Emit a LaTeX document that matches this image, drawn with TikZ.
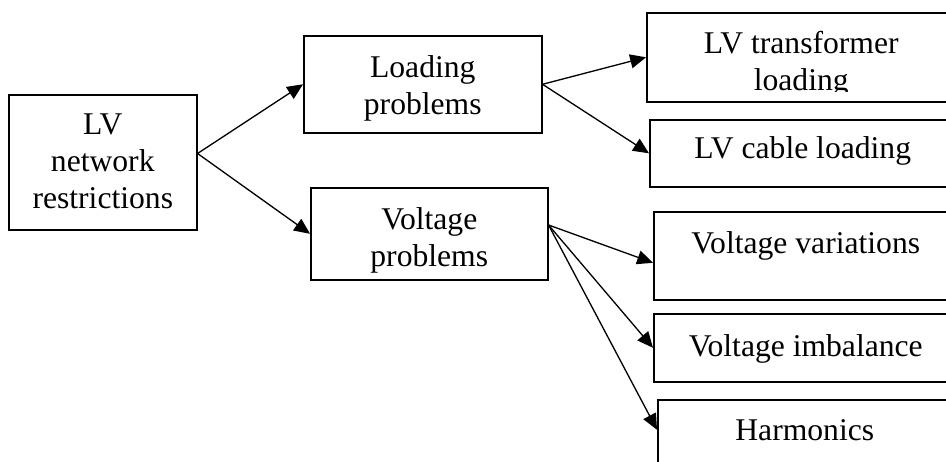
\documentclass[tikz,border=0pt]{standalone}
\usepackage{fontspec}
\setmainfont{Liberation Serif}
\usetikzlibrary{arrows.meta, positioning, calc}

\begin{document}
\begin{tikzpicture}[
  x=0.02cm, y=-0.02cm,
  >={Triangle[length=9pt, width=8pt]},
  arr/.style={draw=black, line width=0.75pt, ->},
  box/.style={rectangle, draw=black, line width=0.9pt, anchor=north west,
    inner xsep=0pt, inner ysep=0pt, align=center,
    font=\fontsize{18}{21}\selectfont},
]

% Frame (boxes on the right run past the edge)
\useasboundingbox (0,0) rectangle (946,461);
\clip (0,0) rectangle (946,461);

% Root
\node[box, minimum width=3.76cm, text height=2.28cm, text depth=0.42cm]
  (lvnet) at (8,94) {LV\\network\\restrictions};

% Middle column
\node[box, minimum width=4.76cm, text height=1.58cm, text depth=0.36cm]
  (load) at (303,35) {Loading\\problems};
\node[box, minimum width=4.74cm, text height=1.58cm, text depth=0.26cm]
  (volt) at (310,187) {Voltage\\problems};

% Right column
\node[box, minimum width=6.18cm, text height=1.56cm, text depth=0.22cm]
  (trans) at (646,12) {LV transformer\\loading};
\node[box, minimum width=6.12cm, text height=0.78cm, text depth=0.56cm]
  (cable) at (649,119) {LV cable loading};
\node[box, minimum width=6.08cm, text height=0.84cm, text depth=0.92cm]
  (var) at (653,211) {Voltage variations};
\node[box, minimum width=6.08cm, text height=0.86cm, text depth=0.50cm]
  (imb) at (653,313) {Voltage imbalance};
\node[box, minimum width=5.88cm, text height=0.82cm, text depth=1.2cm]
  (harm) at (657,399) {Harmonics};

% Text of the top box is cut off at the bottom
\fill[white] ($(trans.south west)+(3,-11)$) rectangle ($(trans.south east)+(-3,-2)$);

% Connectors
\coordinate (lvout) at ([yshift=5pt]lvnet.east);
\draw[arr] (lvout) -- (load.west);
\draw[arr] (lvout) -- (volt.west);

\draw[arr] (load.east) -- (trans.west);
\draw[arr] (load.east) -- (cable.west);

\coordinate (voltout) at ([yshift=5pt]volt.east);
\draw[arr] (voltout) -- ([yshift=-4pt]var.west);
\draw[arr] (voltout) -- (imb.west);
\draw[arr] (voltout) -- ([yshift=-17.5pt]harm.north west);

\end{tikzpicture}
\end{document}
